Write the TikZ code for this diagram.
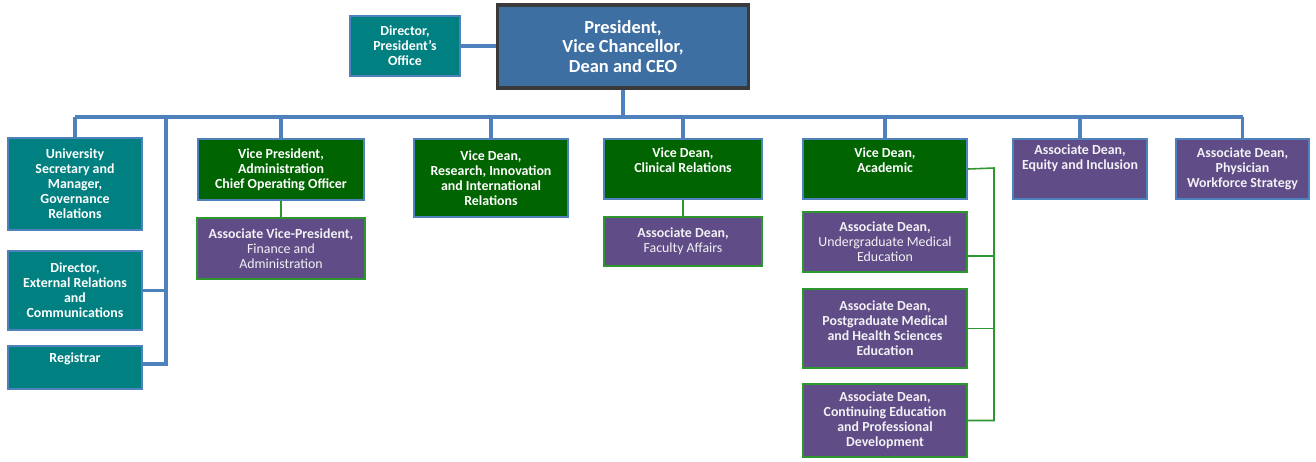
\documentclass[tikz,border=0pt]{standalone}
\usepackage{fontspec}
\setmainfont{Carlito}
\definecolor{presblue}{RGB}{62,111,163}
\definecolor{presedge}{RGB}{58,58,58}
\definecolor{tealbox}{RGB}{0,128,128}
\definecolor{lineblue}{RGB}{79,129,189}
\definecolor{greenbox}{RGB}{0,100,0}
\definecolor{purplebox}{RGB}{96,76,135}
\definecolor{subgreen}{RGB}{46,150,46}

\begin{document}
\begin{tikzpicture}[x=0.02cm,y=-0.02cm,
  unit/.style={draw=lineblue,line width=1.1pt,fill=tealbox,text=white,align=center,
    inner sep=0pt,font=\bfseries\fontsize{7.9}{8.5}\selectfont},
  dean/.style={unit,fill=greenbox},
  assoc/.style={unit,fill=purplebox,text=white!92!purplebox},
  assocg/.style={assoc,draw=subgreen},
  bus/.style={draw=lineblue,line width=1.8pt},
  sub/.style={draw=subgreen,line width=0.9pt}]

\useasboundingbox (0,0) rectangle (1316,461);

\node[unit,fill=presblue,draw=presedge,line width=2.2pt,minimum width=5.02cm,minimum height=1.66cm,
  font=\bfseries\fontsize{10.5}{11.3}\selectfont] (pres) at (623,46.5) {President,\\Vice Chancellor,\\Dean and CEO};
\node[unit,minimum width=2.2cm,minimum height=1.2cm] (dpo) at (405,46) {Director,\\President's\\Office};

\node[unit,minimum width=2.68cm,minimum height=1.84cm] (usec) at (75,184) {University\\Secretary and\\Manager,\\Governance\\Relations};
\node[unit,minimum width=2.68cm,minimum height=1.58cm] (ext) at (75,290.5) {Director,\\External Relations\\and\\Communications};
\node[unit,minimum width=2.68cm,minimum height=0.86cm,text depth=11.5pt] (reg) at (75,367.5) {Registrar};

\node[dean,minimum width=3.32cm,minimum height=1.22cm] (vpa) at (281,169.5) {Vice President,\\Administration\\Chief Operating Officer};
\node[assocg,minimum width=3.36cm,minimum height=1.22cm] (avp) at (281,248.5) {Associate Vice-President,\\\mdseries Finance and\\\mdseries Administration};

\node[dean,minimum width=3.08cm,minimum height=1.56cm] (vdr) at (491,178) {Vice Dean,\\Research, Innovation\\and International\\Relations};

\node[dean,minimum width=3.16cm,minimum height=1.2cm,text depth=10.5pt] (vdc) at (683,169) {Vice Dean,\\Clinical Relations};
\node[assocg,minimum width=3.16cm,minimum height=0.98cm] (adf) at (683,241.5) {Associate Dean,\\\mdseries Faculty Affairs};

\node[dean,minimum width=3.28cm,minimum height=1.2cm,text depth=10.5pt] (vda) at (885,169) {Vice Dean,\\Academic};
\node[assocg,minimum width=3.28cm,minimum height=1.2cm] (adu) at (885,242) {Associate Dean,\\\mdseries Undergraduate Medical\\\mdseries Education};
\node[assocg,minimum width=3.28cm,minimum height=1.58cm] (adp) at (885,328.5) {Associate Dean,\\Postgraduate Medical\\and Health Sciences\\Education};
\node[assocg,minimum width=3.28cm,minimum height=1.46cm] (adc) at (885,420.5) {Associate Dean,\\Continuing Education\\and Professional\\Development};

\node[assoc,minimum width=2.68cm,minimum height=1.2cm,text depth=13pt] (ade) at (1080,169) {Associate Dean,\\Equity and Inclusion};
\node[assoc,minimum width=2.66cm,minimum height=1.2cm] (adw) at (1242.5,169) {Associate Dean,\\Physician\\Workforce Strategy};

\coordinate (busl) at (75,117);
\coordinate (busr) at (1243,117);
\coordinate (side) at (166,117);
\coordinate (acad) at (994,168);

\draw[bus] (dpo.east) -- (pres.west |- dpo.east);
\draw[bus] (pres.south) -- (pres.south |- busl);
\draw[bus] (busl) -- (busr);
\draw[bus] (usec.north) -- (usec.north |- busl);
\draw[bus] (vpa.north) -- (vpa.north |- busl);
\draw[bus] (vdr.north) -- (vdr.north |- busl);
\draw[bus] (vdc.north) -- (vdc.north |- busl);
\draw[bus] (vda.north) -- (vda.north |- busl);
\draw[bus] (ade.north) -- (ade.north |- busl);
\draw[bus] (adw.north) -- (adw.north |- busl);
\draw[bus] (side) |- ([yshift=2pt]reg.east);
\draw[bus] (ext.east) -- (ext.east -| side);

\draw[sub] (vpa.south) -- (avp.north);
\draw[sub] (vdc.south) -- (adf.north);
\draw[sub] (vda.east) -- (acad) |- (adc.east);
\draw[sub] ([yshift=-8pt]adu.east) -- ([yshift=-8pt]adu.east -| acad);
\draw[sub] (adp.east) -- (adp.east -| acad);
\end{tikzpicture}
\end{document}
